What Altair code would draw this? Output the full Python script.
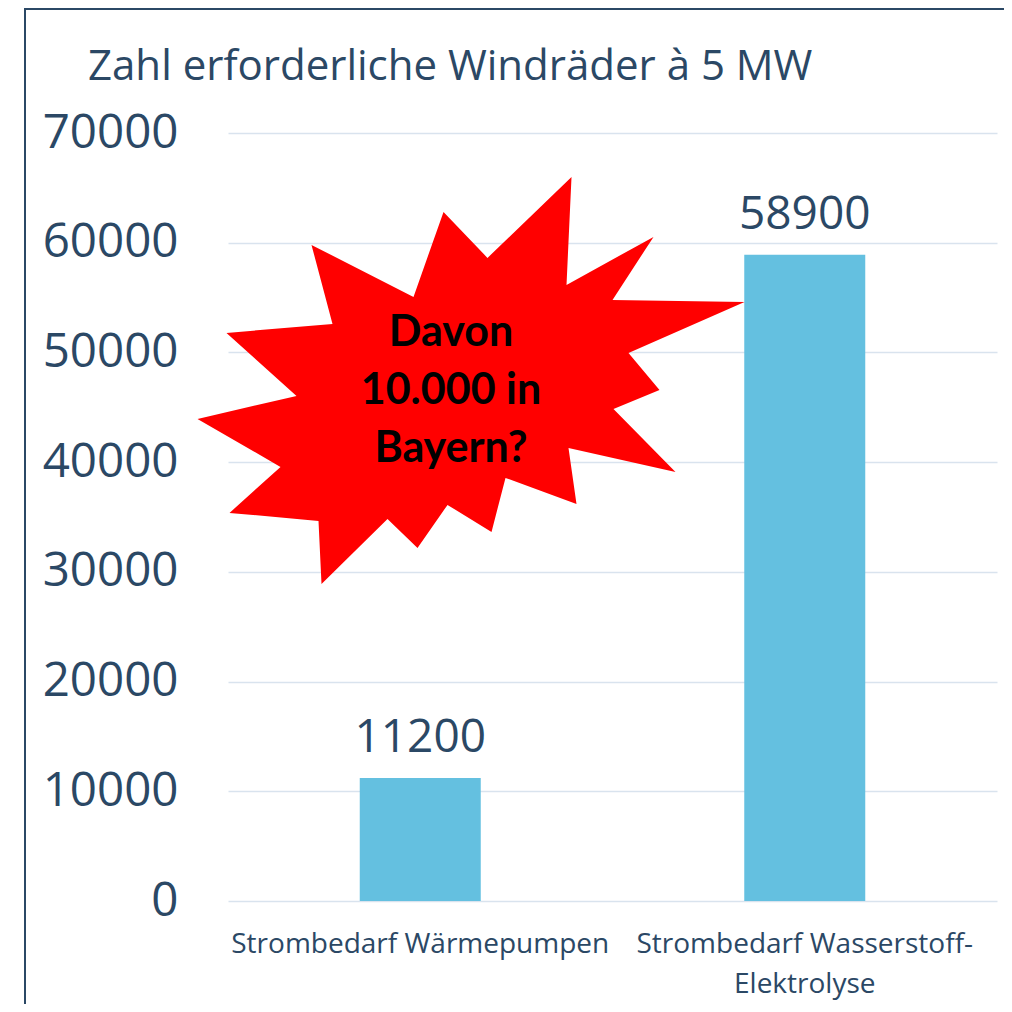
import altair as alt
import pandas as pd

# ---- data ----
categories = ["Strombedarf Wärmepumpen", "Strombedarf Wasserstoff-Elektrolyse"]
values = [11200, 58900]
y_ticks = [0, 10000, 20000, 30000, 40000, 50000, 60000, 70000]
title_text = "Zahl erforderliche Windräder à 5 MW"
callout_lines = ["Davon", "10.000 in", "Bayern?"]

# callout position: x as fraction of plot width, y in data units
star_x, star_y = 0.316, 47450
callout_x, callout_y = 0.29, 50550

# star outline (shape geometry, arbitrary units, y downwards)
star_vertices = [
    (571, 177), (566, 285), (653, 237), (612, 300), (744, 302), (628, 353),
    (659, 390), (613, 409), (675, 472), (568, 448), (576, 504), (505, 478),
    (491, 532), (447, 505), (417, 548), (387, 519), (321, 584), (318, 521),
    (229, 513), (280, 467), (197, 419), (296, 396), (226, 333), (332, 324),
    (311, 245), (413, 297), (443, 212), (487, 258),
]

# ---- styles ----
TEXT = "#2B4865"
GRID = "#D9E3EE"
BAR = "#64C0E0"
FONT = "Open Sans"

xs = [p[0] for p in star_vertices]
ys = [p[1] for p in star_vertices]
cx, cy = (min(xs) + max(xs)) / 2, (min(ys) + max(ys)) / 2
half = max(max(xs) - min(xs), max(ys) - min(ys)) / 2
star_path = "M" + " L".join(f"{(x - cx) / half:.4f},{(y - cy) / half:.4f}" for x, y in star_vertices) + " Z"
star_size = (2 * half) ** 2

df = pd.DataFrame({"cat": categories, "val": values})

y_axis = alt.Axis(
    values=y_ticks, format="d", title=None, domain=False, ticks=False,
    labelFont=FONT, labelFontSize=47.5, labelColor=TEXT, labelPadding=50,
    gridColor=GRID, gridWidth=1.6, labelLimit=400,
)
y_scale = alt.Scale(domain=[0, 70000], nice=False, zero=True)
x_scale = alt.Scale(domain=categories, paddingInner=0, paddingOuter=0)

bars = alt.Chart(df).mark_bar(width=121, color=BAR).encode(
    x=alt.X("cat:N", sort=categories, scale=x_scale,
            axis=alt.Axis(title=None, domain=False, ticks=False, grid=False,
                          labelFont=FONT, labelFontSize=28, labelColor=TEXT,
                          labelAngle=0, labelBaseline="alphabetic", labelPadding=51,
                          labelLineHeight=40, labelLimit=600,
                          labelExpr="split(replace(datum.label, '-', '-|'), '|')")),
    y=alt.Y("val:Q", scale=y_scale, axis=y_axis),
)

bar_labels = alt.Chart(df).mark_text(
    dy=-26, baseline="alphabetic", font=FONT, fontSize=46, color=TEXT
).encode(
    x=alt.X("cat:N", sort=categories, scale=x_scale, axis=None),
    y=alt.Y("val:Q", scale=y_scale, axis=y_axis),
    text=alt.Text("val:Q", format="d"),
)

star_df = pd.DataFrame({"sx": [star_x], "val": [star_y]})
star = alt.Chart(star_df).mark_point(
    shape=star_path, filled=True, fill="#FF0000", opacity=1, strokeWidth=0, size=star_size
).encode(
    x=alt.X("sx:Q", scale=alt.Scale(domain=[0, 1]), axis=None),
    y=alt.Y("val:Q", scale=y_scale, axis=y_axis),
)

callout_df = pd.DataFrame({"sx": [callout_x], "val": [callout_y]})
callout = alt.Chart(callout_df).mark_text(
    text=callout_lines, font="Lato", fontWeight="bold", fontSize=43, lineHeight=58,
    align="center", baseline="alphabetic", color="#000000"
).encode(
    x=alt.X("sx:Q", scale=alt.Scale(domain=[0, 1]), axis=None),
    y=alt.Y("val:Q", scale=y_scale, axis=y_axis),
)

one = pd.DataFrame({"a": [0]})
title = alt.Chart(one).mark_text(
    text=title_text, font=FONT, fontSize=42, color=TEXT, align="left", baseline="alphabetic"
).encode(x=alt.value(-140), y=alt.value(-53))

frame_left = alt.Chart(one).mark_rule(color=TEXT, strokeWidth=2).encode(
    x=alt.value(-203), y=alt.value(-124), y2=alt.value(871)
)
frame_top = alt.Chart(one).mark_rule(color=TEXT, strokeWidth=2).encode(
    x=alt.value(-204), x2=alt.value(776), y=alt.value(-124)
)

chart = alt.layer(
    bars, bar_labels, star, callout, title, frame_left, frame_top
).resolve_scale(x="independent").properties(
    width=769, height=768,
    padding={"left": 220, "top": 125, "right": 7, "bottom": 103},
    autosize=alt.AutoSizeParams(type="none"),
).configure_view(stroke=None)

chart.save("out.html", embed_options={"renderer": "svg", "actions": False})
